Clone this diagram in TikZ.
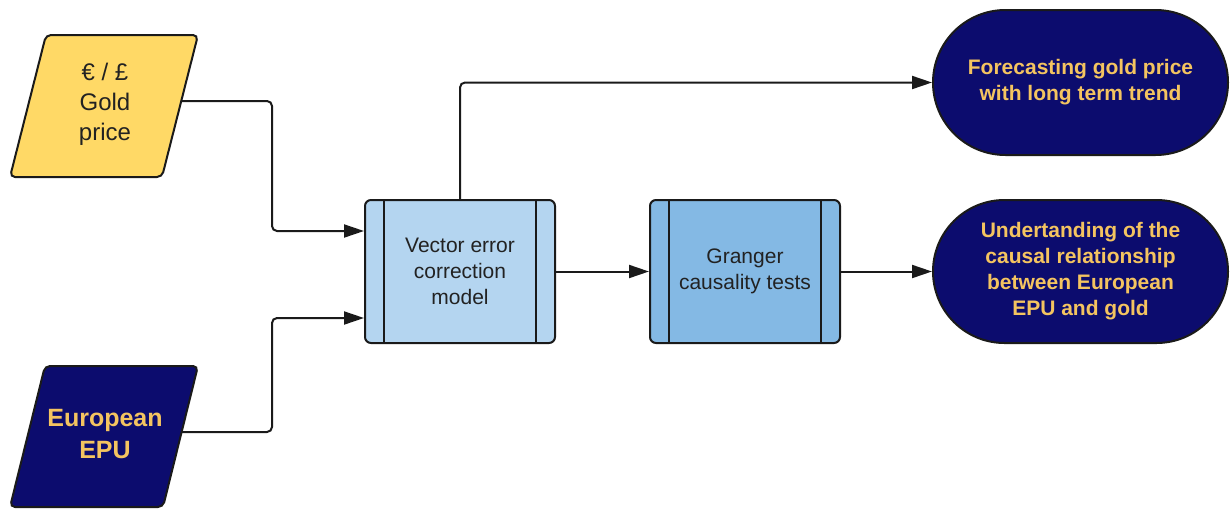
\documentclass[tikz,border=0pt]{standalone}
\usepackage{fontspec}
\setmainfont{Liberation Sans}
\usetikzlibrary{shapes.misc,arrows.meta}

\definecolor{navy}{RGB}{12,12,110}
\definecolor{goldtext}{RGB}{244,196,96}
\definecolor{goldfill}{RGB}{255,217,102}
\definecolor{vecmfill}{RGB}{180,213,240}
\definecolor{grangerfill}{RGB}{132,185,228}
\definecolor{inkline}{RGB}{26,26,26}
\definecolor{inktext}{RGB}{34,34,34}

\tikzset{
  dataframe/.style={draw=inkline, line width=2pt, rounded corners=5pt},
  process/.style={shape=rectangle, draw=inkline, line width=2pt, rounded corners=6pt,
    minimum width=190pt, minimum height=143pt, align=center, text=inktext,
    font=\fontsize{21}{26}\selectfont, inner sep=0pt},
  outcome/.style={shape=rounded rectangle, draw=inkline, line width=2pt, fill=navy,
    minimum width=295pt, align=center, text=goldtext,
    font=\bfseries\fontsize{21}{26}\selectfont, inner sep=0pt},
  flow/.style={draw=inkline, line width=2pt, rounded corners=5pt,
    -{Triangle[length=20pt,width=13pt]}},
  sidebar/.style={draw=inkline, line width=2pt}
}

\begin{document}
\begin{tikzpicture}[x=1pt,y=-1pt]
\useasboundingbox (0,0) rectangle (1231,509);

% inputs (slanted data shapes)
\draw[dataframe, fill=goldfill] (46,35) -- (198,35) -- (162,177) -- (10,177) -- cycle;
\node[align=center, text=inktext, font=\fontsize{24}{30}\selectfont]
  (gold) at (105,104) {€ / £\\Gold\\price};
\coordinate (goldout) at (181,101);

\draw[dataframe, fill=navy] (45,366) -- (198,366) -- (163,507) -- (10,507) -- cycle;
\node[align=center, text=goldtext, font=\bfseries\fontsize{25}{32}\selectfont]
  (epu) at (105,434) {European\\EPU};
\coordinate (epuout) at (181,432);

% models
\node[process, fill=vecmfill] (vecm) at (460,271.5) {Vector error\\correction\\model};
\node[process, fill=grangerfill] (granger) at (745,271.5) {Granger\\causality tests};
\foreach \n in {vecm,granger}{
  \draw[sidebar] ([xshift=20pt]\n.north west) -- ([xshift=20pt]\n.south west);
  \draw[sidebar] ([xshift=-20pt]\n.north east) -- ([xshift=-20pt]\n.south east);
}

% results
\node[outcome, minimum height=145pt] (fc) at (1080.5,82.5)
  {Forecasting gold price\\with long term trend};
\node[outcome, minimum height=143pt] (und) at (1080.5,271.5)
  {Undertanding of the\\causal relationship\\between European\\EPU and gold};

% connectors
\coordinate (j1) at (272,231);
\coordinate (j2) at (272,318);
\draw[flow] (goldout) -| (j1) -- ([yshift=40.5pt]vecm.west);
\draw[flow] (epuout) -| (j2) -- ([yshift=-46.5pt]vecm.west);
\draw[flow] (vecm.east) -- (granger.west);
\draw[flow] (granger.east) -- (und.west);
\draw[flow] (vecm.north) |- (fc.west);
\end{tikzpicture}
\end{document}
